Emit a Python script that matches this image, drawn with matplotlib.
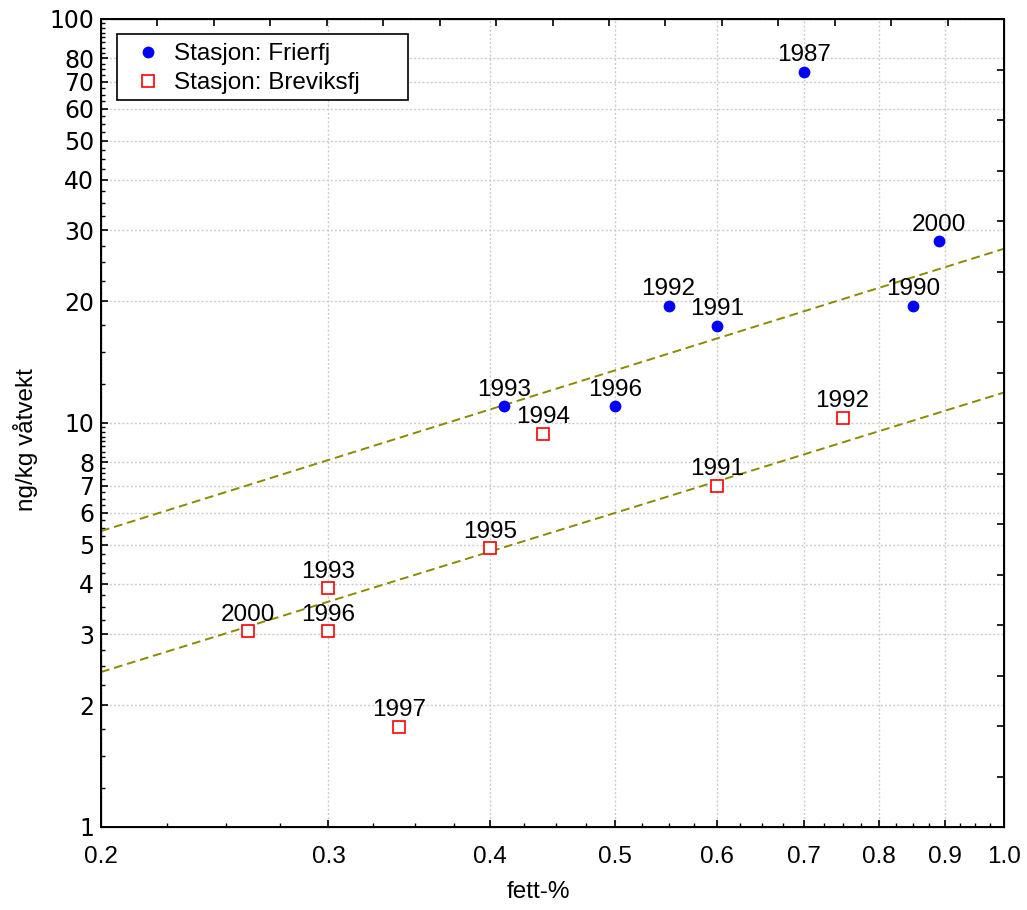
import numpy as np
import matplotlib
matplotlib.use('Agg')
import matplotlib.pyplot as plt
from matplotlib.patches import Rectangle
from matplotlib.ticker import FixedLocator, NullFormatter

plt.rcParams['font.family'] = ['Liberation Sans', 'DejaVu Sans']

# --- data ---
frierfj_year = ['1987', '2000', '1992', '1991', '1990', '1993', '1996']
frierfj_fett = [0.70, 0.89, 0.55, 0.60, 0.85, 0.41, 0.50]
frierfj_conc = [74.0, 28.2, 19.5, 17.4, 19.5, 11.0, 11.0]

breviksfj_year = ['1994', '1992', '1991', '1995', '1993', '1996', '2000', '1997']
breviksfj_fett = [0.44, 0.75, 0.60, 0.40, 0.30, 0.30, 0.26, 0.34]
breviksfj_conc = [9.4, 10.3, 7.0, 4.9, 3.9, 3.05, 3.05, 1.77]

# power fits y = a * x^b (as drawn in the chart)
fit_frierfj = (27.0, 1.0)
fit_breviksfj = (11.9, 0.99)

x_ticks = [0.2, 0.3, 0.4, 0.5, 0.6, 0.7, 0.8, 0.9, 1.0]
x_ticklabels = ['0.2', '0.3', '0.4', '0.5', '0.6', '0.7', '0.8', '0.9', '1.0']
y_ticks = [1, 2, 3, 4, 5, 6, 7, 8, 10, 20, 30, 40, 50, 60, 70, 80, 100]

W, H = 1027, 910
AX_L, AX_T, AX_W, AX_H = 101, 19, 903, 808  # axes box in pixels
fig = plt.figure(figsize=(W / 100, H / 100), dpi=100)
ax = fig.add_axes([AX_L / W, 1 - (AX_T + AX_H) / H, AX_W / W, AX_H / H])
ax.set_xscale('log')
ax.set_yscale('log')
ax.set_xlim(0.2, 1.0)
ax.set_ylim(1, 100)

# regression lines
xx = np.linspace(0.2, 1.0, 200)
line_color = '#8a8a00'
for a, b in (fit_frierfj, fit_breviksfj):
    ax.plot(xx, a * xx ** b, color=line_color, lw=1.4, linestyle=(0, (4.5, 2.5)), zorder=2)

# points
ax.plot(frierfj_fett, frierfj_conc, 'o', color='#0000ff', markersize=8.5,
        markeredgewidth=0, label='Stasjon: Frierfj', zorder=3)
ax.plot(breviksfj_fett, breviksfj_conc, 's', markerfacecolor='white',
        markeredgecolor='#ff0000', markersize=8, markeredgewidth=1.2,
        label='Stasjon: Breviksfj', zorder=3)

for x, y, t in zip(frierfj_fett, frierfj_conc, frierfj_year):
    ax.annotate(t, (x, y), xytext=(0, 4), textcoords='offset points',
                ha='center', va='bottom', fontsize=17.5)
for x, y, t in zip(breviksfj_fett, breviksfj_conc, breviksfj_year):
    ax.annotate(t, (x, y), xytext=(0, 4), textcoords='offset points',
                ha='center', va='bottom', fontsize=17.5)

# ticks
ax.xaxis.set_major_locator(FixedLocator(x_ticks))
ax.set_xticklabels(x_ticklabels)
ax.xaxis.set_minor_locator(FixedLocator(np.arange(0.2, 1.0001, 0.025)))
ax.xaxis.set_minor_formatter(NullFormatter())
ax.yaxis.set_major_locator(FixedLocator(y_ticks))
ax.set_yticklabels([str(v) for v in y_ticks])
ax.yaxis.set_minor_locator(FixedLocator(np.concatenate([np.arange(1, 10, 0.25),
                                                        np.arange(10, 100.01, 2.5)])))
ax.yaxis.set_minor_formatter(NullFormatter())
ax.tick_params(axis='both', which='both', direction='in', top=False, right=False)
ax.tick_params(axis='both', which='major', length=5, width=1.2)
ax.tick_params(axis='both', which='minor', length=3, width=1)
ax.tick_params(axis='x', which='major', labelsize=17.5, pad=14)
ax.tick_params(axis='y', which='major', pad=5)
for lab in ax.get_yticklabels():
    lab.set_family('DejaVu Sans')
    lab.set_fontsize(17)

ax.grid(True, which='major', color='#cccccc', linestyle=(0, (1.5, 1.5)), lw=1)
for s in ax.spines.values():
    s.set_linewidth(1.4)

ax.set_xlabel('fett-%', fontsize=17.5)
ax.xaxis.set_label_coords(0.484, -0.067)
ax.set_ylabel('ng/kg våtvekt', fontsize=17.5)
ax.yaxis.set_label_coords(-0.07, 0.48)

# top / right tick marks (evenly spaced, no labels)
ax_top = ax.twiny()
ax_top.set_xlim(0, 16)
ax_top.set_xticks(range(17))
ax_top.set_xticklabels([])
ax_top.tick_params(axis='x', direction='in', length=5, width=1.2)
ax_right = ax.twinx()
ax_right.set_ylim(0, 16)
ax_right.set_yticks(range(17))
ax_right.set_yticklabels([])
ax_right.tick_params(axis='y', direction='in', length=5, width=1.2)

# legend: entries without frame, wide box drawn separately as in the original
box_l, box_t, box_w, box_h = 117, 34, 291, 66
ax.add_patch(Rectangle(((box_l - AX_L) / AX_W, 1 - (box_t + box_h - AX_T) / AX_H),
                       box_w / AX_W, box_h / AX_H, transform=ax.transAxes,
                       facecolor='white', edgecolor='black', lw=1.2, zorder=5))
leg = ax.legend(loc='upper left',
                bbox_to_anchor=((136 - AX_L) / AX_W, 1 - (43 - AX_T) / AX_H),
                borderaxespad=0, fontsize=17.5, frameon=False, handlelength=1.0,
                handletextpad=0.55, labelspacing=0.3, borderpad=0.0)
leg.set_zorder(6)

fig.savefig('out.png', dpi=100)
